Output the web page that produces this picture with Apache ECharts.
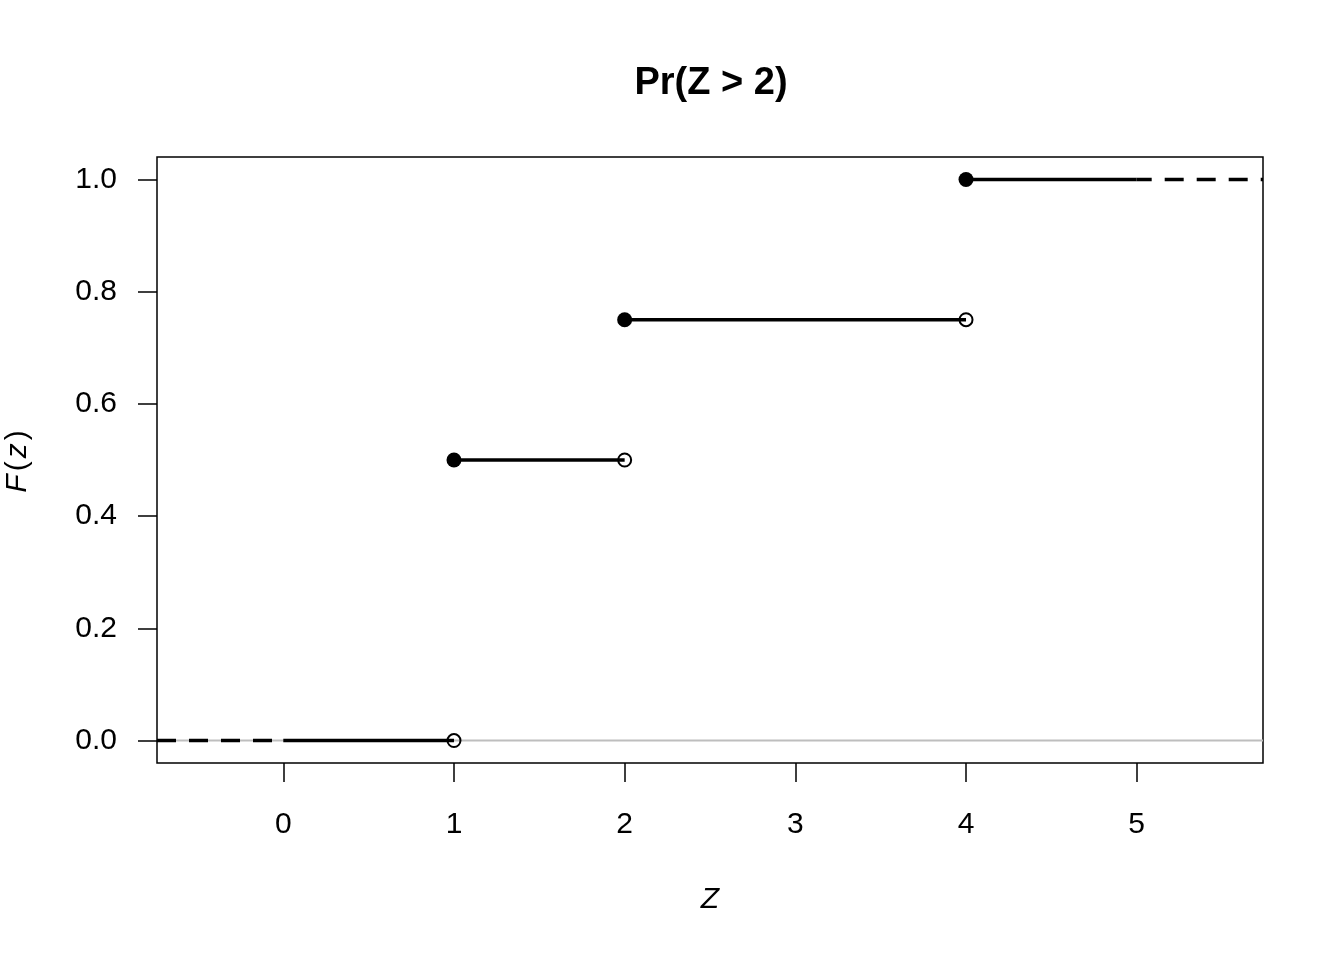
<!DOCTYPE html>
<html>
<head>
<meta charset="utf-8">
<script src="https://cdn.jsdelivr.net/npm/echarts@6/dist/echarts.min.js"></script>
<style>
html,body{margin:0;padding:0;background:#fff;}
#chart{width:1344px;height:960px;}
</style>
</head>
<body>
<div id="chart"></div>
<script>
// Data
const jumpPoints = [1, 2, 4];          // where the CDF jumps
const cdfLevels = [0, 0.5, 0.75, 1];   // CDF level on each step
const solidStart = [0, 1, 2, 4];       // solid segment starts
const solidEnd = [1, 2, 4, 5];         // solid segment ends
const xTicks = [0, 1, 2, 3, 4, 5];
const yTicks = [0, 0.2, 0.4, 0.6, 0.8, 1.0];
const xData = [-0.5, 5.5];
const yData = [0, 1];

const ext = (r) => { const d = (r[1] - r[0]) * 0.04; return [r[0] - d, r[1] + d]; };
const xLim = ext(xData);
const yLim = ext(yData);

const FONT = 'Liberation Sans';
const series = [];

// grey reference line at 0
series.push({
  type: 'line', data: [[xLim[0], 0], [xLim[1], 0]], symbol: 'none', silent: true,
  lineStyle: { color: '#BEBEBE', width: 2 }, z: 1
});

// dashed tails
series.push({
  type: 'line', data: [[xLim[0], cdfLevels[0]], [solidStart[0], cdfLevels[0]]], symbol: 'none',
  lineStyle: { color: '#000', width: 3.5, type: [19, 13] }, z: 2
});
series.push({
  type: 'line', data: [[solidEnd[solidEnd.length - 1], cdfLevels[cdfLevels.length - 1]], [xLim[1], cdfLevels[cdfLevels.length - 1]]], symbol: 'none',
  lineStyle: { color: '#000', width: 3.5, type: [19, 13], dashOffset: 4 }, z: 2
});

// solid steps
for (let i = 0; i < solidStart.length; i++) {
  series.push({
    type: 'line', data: [[solidStart[i], cdfLevels[i]], [solidEnd[i], cdfLevels[i]]], symbol: 'none',
    lineStyle: { color: '#000', width: 3.5 }, z: 3
  });
}

// filled points (right-continuous)
series.push({
  type: 'scatter', data: jumpPoints.map((x, i) => [x, cdfLevels[i + 1]]),
  symbol: 'circle', symbolSize: 15, itemStyle: { color: '#000', opacity: 1 }, z: 4
});
// open points
series.push({
  type: 'scatter', data: jumpPoints.map((x, i) => [x, cdfLevels[i]]),
  symbol: 'circle', symbolSize: 13,
  itemStyle: { color: 'rgba(0,0,0,0)', borderColor: '#000', borderWidth: 2, opacity: 1 }, z: 4
});

const chart = echarts.init(document.getElementById('chart'), null, { renderer: 'canvas' });
chart.setOption({
  animation: false,
  backgroundColor: '#fff',
  title: {
    text: 'Pr(Z > 2)', left: 706, top: 60, textAlign: 'center',
    textStyle: { fontFamily: FONT, fontSize: 38, fontWeight: 'bold', color: '#000' }
  },
  grid: {
    left: 157, right: 81, top: 157, bottom: 197,
    containLabel: false, outerBoundsMode: 'none',
    show: true, borderColor: '#000', borderWidth: 1.5, backgroundColor: 'transparent'
  },
  xAxis: {
    type: 'value', min: xLim[0], max: xLim[1],
    axisLine: { show: false, onZero: false },
    splitLine: { show: false },
    axisTick: { show: true, customValues: xTicks, length: 19, lineStyle: { color: '#000', width: 1.5 } },
    axisLabel: { customValues: xTicks, margin: 47, fontFamily: FONT, fontSize: 30, color: '#000',
      formatter: (v) => String(v) },
    name: 'Z', nameLocation: 'middle', nameGap: 122,
    nameTextStyle: { fontFamily: FONT, fontSize: 30, fontStyle: 'italic', color: '#000' }
  },
  yAxis: {
    type: 'value', min: yLim[0], max: yLim[1],
    axisLine: { show: false, onZero: false },
    splitLine: { show: false },
    axisTick: { show: true, customValues: yTicks, length: 19, lineStyle: { color: '#000', width: 1.5 } },
    axisLabel: { customValues: yTicks, margin: 40, fontFamily: FONT, fontSize: 30, color: '#000',
      formatter: (v) => v.toFixed(1) },
    name: '{i|F}{n|(}{i|z}{n|)}', nameLocation: 'middle', nameGap: 124, nameRotate: 90,
    nameTextStyle: {
      fontFamily: FONT, fontSize: 30, color: '#000',
      rich: {
        i: { fontFamily: FONT, fontSize: 30, fontStyle: 'italic', color: '#000' },
        n: { fontFamily: FONT, fontSize: 30, color: '#000', padding: [0, 3, 0, 3] }
      }
    }
  },
  series: series
});
</script>
</body>
</html>
